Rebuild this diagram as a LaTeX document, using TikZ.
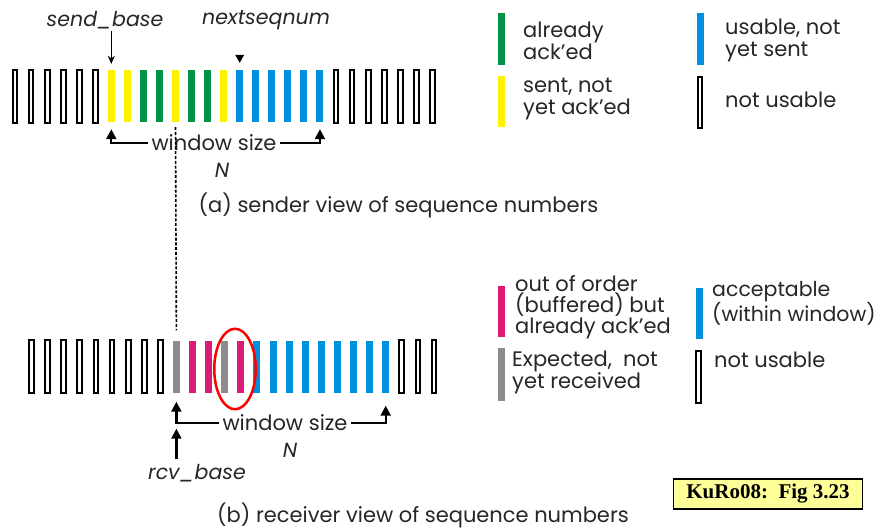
\documentclass[tikz,border=0pt]{standalone}
\usepackage{fontspec}
\setmainfont{Poppins}
\newfontfamily\kufont{Liberation Serif}
\usetikzlibrary{shapes.geometric,arrows.meta,calc}
\definecolor{ackgreen}{RGB}{0,146,69}
\definecolor{sentyellow}{RGB}{255,242,0}
\definecolor{usablue}{RGB}{0,144,222}
\definecolor{oomag}{RGB}{218,28,120}
\definecolor{expgray}{RGB}{140,140,140}
\definecolor{boxyellow}{RGB}{255,255,153}
\begin{document}
\begin{tikzpicture}[x=1pt,y=-1pt,
  obar/.style={draw=black,line width=2pt,minimum width=4.8pt,minimum height=53pt,inner sep=0pt},
  cbar/.style={fill=#1,draw=none,minimum width=7pt,minimum height=52pt,inner sep=0pt},
  txt/.style={font=\fontsize{21}{22}\selectfont,inner sep=0pt,text=black!85},
  itxt/.style={font=\fontsize{20.5}{22}\selectfont\itshape,inner sep=0pt,text=black!85},
  ltxt/.style={txt,anchor=west,align=left},
  wtxt/.style={txt,inner xsep=3pt},
  warrow/.style={line width=2.2pt,-{Triangle[length=10pt,width=10pt]}},
  tarrow/.style={line width=0.8pt,-{Stealth[length=8pt,width=7pt]}},
  dashline/.style={line width=1.6pt,dash pattern=on 3pt off 1.8pt},
]
\useasboundingbox (0,0) rectangle (879,530);
% sender row
\foreach \i in {0,1,2,3,4,5,20,21,22,23,24,25,26}
  \node[obar] (s\i) at ({15+16.05*\i},96.5) {};
\foreach \i/\c in {6/sentyellow,7/sentyellow,8/ackgreen,9/ackgreen,10/sentyellow,11/ackgreen,12/ackgreen,13/sentyellow,14/usablue,15/usablue,16/usablue,17/usablue,18/usablue,19/usablue}
  \node[cbar=\c] (s\i) at ({15+16.05*\i},96) {};
% receiver row
\foreach \i in {0,1,2,3,4,5,6,7,8,23,24,25}
  \node[obar] (r\i) at ({31.5+16.1*\i},366.5) {};
\foreach \i/\c in {9/expgray,10/oomag,11/oomag,12/expgray,13/oomag,14/usablue,15/usablue,16/usablue,17/usablue,18/usablue,19/usablue,20/usablue,21/usablue,22/usablue}
  \node[cbar=\c] (r\i) at ({31.5+16.1*\i},366.5) {};
% sender labels
\node[itxt] (sb) at (105,20) {send\_base};
\draw[tarrow,shorten <=2pt,shorten >=6pt] (s6 |- sb.south) -- (s6.north);
\node[itxt] (ns) at (266,20) {nextseqnum};
\fill ($(s14.north)+(-4.5,-15)$) -- ($(s14.north)+(4.5,-15)$) -- ($(s14.north)+(0,-7)$) -- cycle;
\node[wtxt] (ws1) at (214,143) {window size};
\draw[warrow,shorten >=7pt] (ws1.west) -| (s6.south);
\draw[warrow,shorten >=7pt] (ws1.east) -| (s19.south);
\node[itxt] (n1) at (222,170) {N};
\node[txt,anchor=base] (capa) at (398.5,212) {(a) sender view of sequence numbers};
% dashed link
\draw[dashline,shorten <=5pt,shorten >=10pt] (s10.south) -- (r9.north);
% receiver labels
\node[draw=red,line width=2.5pt,ellipse,minimum width=41.5pt,minimum height=80.5pt,inner sep=0pt] (oval) at (235,369) {};
\node[wtxt] (ws2) at (285,423) {window size};
\draw[warrow,shorten >=9pt] (ws2.west) -| (r9.south);
\draw[warrow,shorten >=13pt] (ws2.east) -| (r22.south);
\node[itxt] (n2) at (290,450) {N};
\node[itxt] (rb) at (197,473) {rcv\_base};
\draw[warrow,shorten <=5pt,shorten >=36pt] (r9 |- rb.north) -- (r9.south);
\node[txt,anchor=base] (capb) at (423,522) {(b) receiver view of sequence numbers};
% legend (sender)
\node[cbar=ackgreen] (lg1) at (501.5,39) {};
\node[ltxt] (lt1) at (523,41) {already\\ack’ed};
\node[cbar=sentyellow,minimum height=51pt] (lg2) at (501.5,101.5) {};
\node[ltxt] (lt2) at (523,99) {sent, not\\yet ack’ed};
\node[cbar=usablue] (lg3) at (700.5,39) {};
\node[ltxt] (lt3) at (725,40) {usable, not\\yet sent};
\node[obar,minimum height=51pt] (lg4) at (700,102) {};
\node[ltxt] (lt4) at (725,100) {not usable};
% legend (receiver)
\node[cbar=oomag,minimum height=51pt] (lg5) at (501.5,311.5) {};
\node[ltxt,font=\fontsize{21}{21}\selectfont] (lt5) at (515,307) {out of order\\(buffered) but\\already ack’ed};
\node[cbar=usablue,minimum height=51pt] (lg6) at (699.5,313.5) {};
\node[ltxt,font=\fontsize{20.5}{21}\selectfont] (lt6) at (712,303.5) {acceptable\\(within window)};
\node[cbar=expgray,minimum height=53pt] (lg7) at (501.5,374.5) {};
\node[ltxt,font=\fontsize{21}{21}\selectfont] (lt7) at (512,372.5) {Expected,\ \ not\\yet received};
\node[obar,minimum height=52pt] (lg8) at (698.5,377) {};
\node[ltxt] (lt8) at (714,360) {not usable};
% reference box
\node[draw=black,line width=1.3pt,fill=boxyellow,minimum width=189pt,minimum height=30pt,inner sep=0pt,font=\kufont\bfseries\fontsize{21}{24}\selectfont] (ref) at (768,494) {KuRo08:\ \ Fig 3.23};
\end{tikzpicture}
\end{document}
